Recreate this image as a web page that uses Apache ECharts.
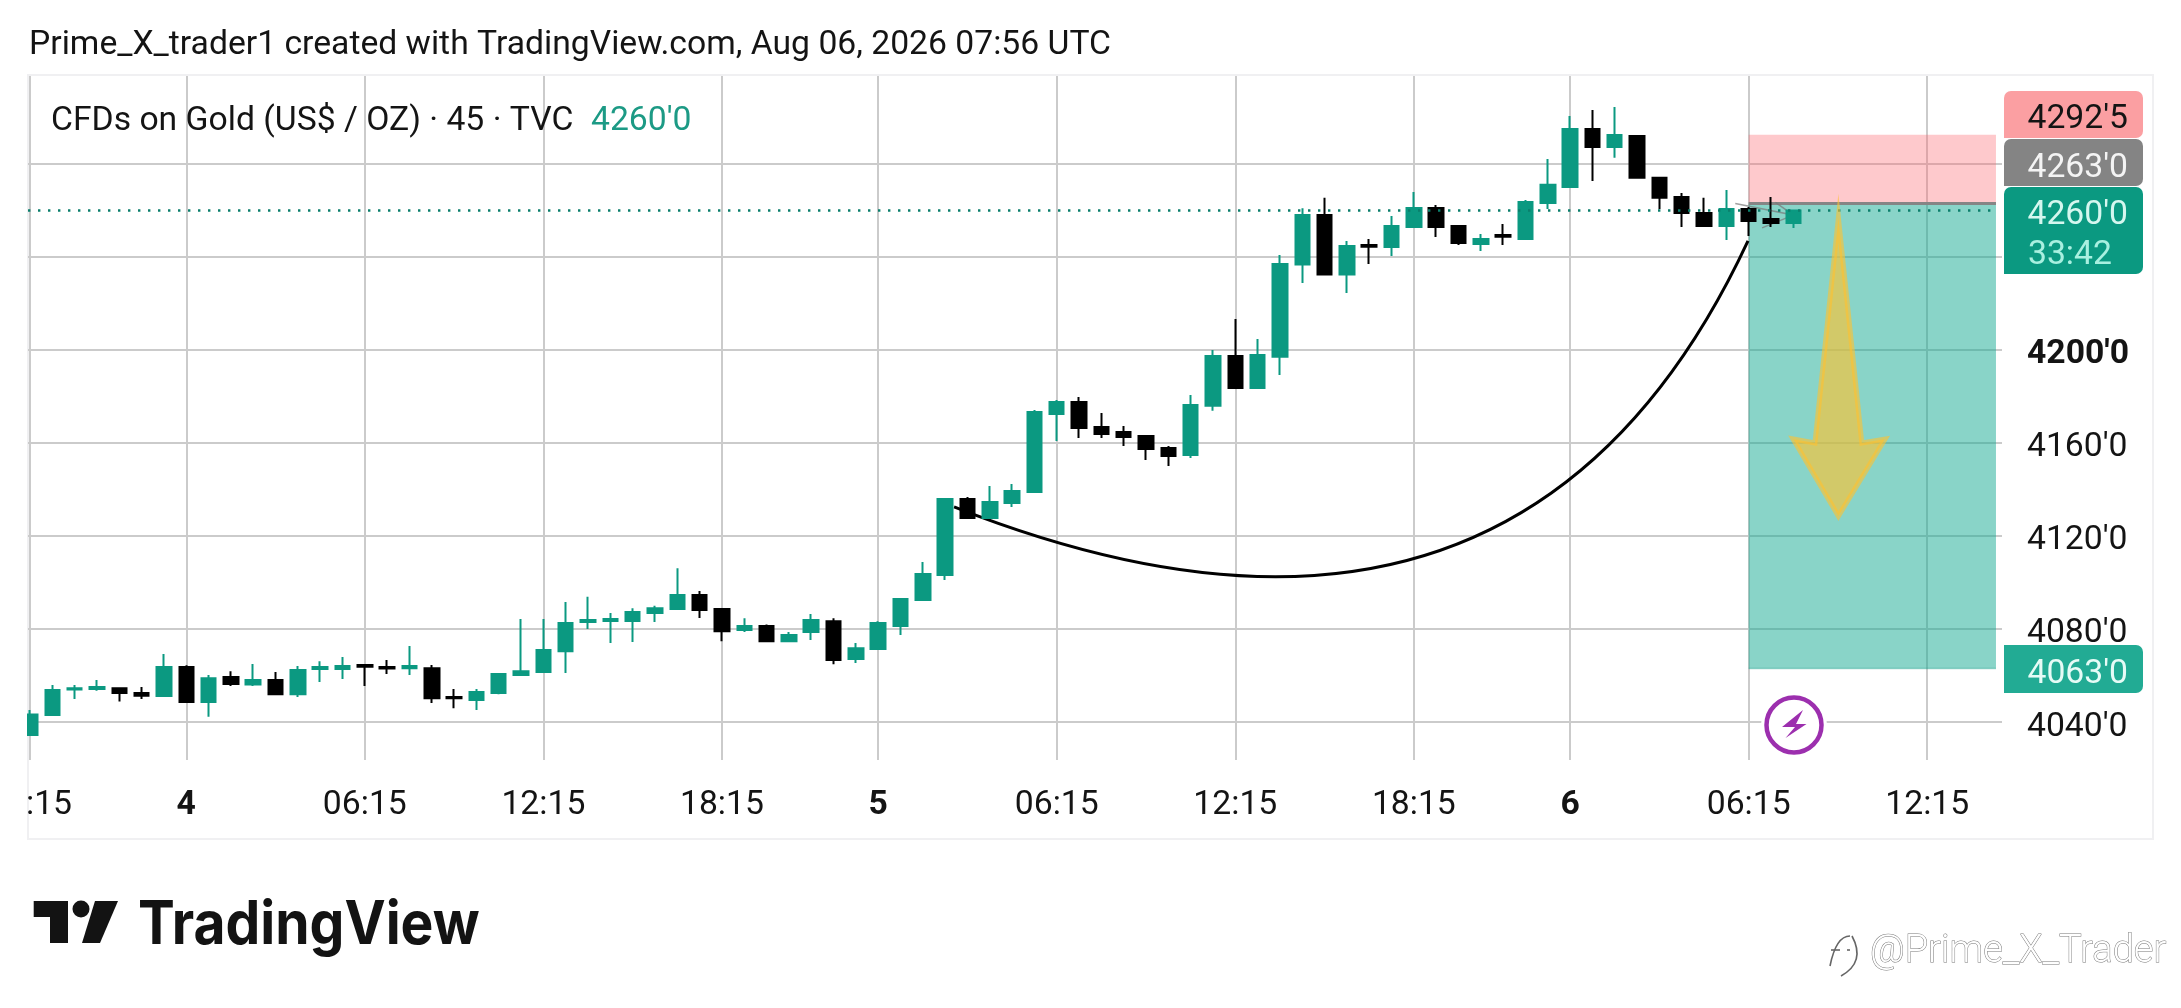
<!DOCTYPE html>
<html><head><meta charset="utf-8">
<style>html,body{margin:0;padding:0;background:#fff}#c{width:2181px;height:1008px}</style>
<script src="https://cdn.jsdelivr.net/npm/echarts@6/dist/echarts.min.js"></script>
</head><body><div id="c"></div>
<script>
const opens =[4034.4,4043,4054,4054.2,4054.6,4052.5,4051.2,4063.7,4048.6,4059.4,4056.2,4058.1,4052,4062.8,4062.8,4064.5,4063.7,4063.2,4063.2,4050.8,4049.5,4052.5,4060.2,4061.5,4070.5,4083,4083.5,4083.5,4086.9,4088.6,4094.6,4088.6,4079.6,4081.3,4074.8,4078.7,4083.4,4067.1,4071.4,4081.3,4092.5,4103.2,4135.9,4127.7,4134.2,4138.9,4172.5,4177.6,4166.9,4164.7,4163,4157.8,4154.8,4176,4197.4,4183.6,4197.1,4236.7,4258,4232.4,4245.1,4244.3,4252.9,4261,4253.3,4245.6,4249.4,4247.7,4263.2,4270.1,4295,4287.3,4292,4274,4265.8,4258.9,4253.3,4260.6,4256.3,4254.6];
const closes=[4043.3,4053.8,4054.6,4055.1,4052.5,4051.3,4063.7,4048.6,4058.9,4056.4,4058.1,4052,4062.4,4063.7,4064.1,4063.8,4063,4064.1,4050.3,4050.2,4052.9,4060.7,4061.9,4071,4082.6,4083.9,4084.3,4087.3,4089,4094.6,4088.2,4079.1,4081.3,4074.8,4077.4,4083.9,4066.7,4071.8,4082.6,4092.9,4103.7,4135.9,4127.7,4134.6,4139.4,4173.3,4177.6,4166.5,4163.9,4162.6,4157.4,4154.4,4176.3,4197.4,4183.6,4197.8,4237,4258,4232.4,4244.7,4244.4,4253.3,4261,4252.9,4246,4247.7,4248.7,4263.6,4271,4295,4287.3,4292.4,4274,4265.4,4258.9,4253.3,4260.6,4255.5,4254.6,4260];
const highs =[4045.2,4055.9,4055.9,4058.1,4054.6,4055.1,4069.3,4064.4,4060.2,4061.9,4065,4061.5,4064.1,4066.2,4068,4064.5,4066.7,4072.7,4064.5,4054.2,4054.2,4061.1,4084.3,4084.3,4091.6,4093.9,4086.9,4089,4090,4106.2,4096.4,4088.9,4084.7,4082,4078.7,4086.5,4084.7,4074,4083.4,4092.9,4108.8,4136.3,4136.8,4141.5,4142.4,4174.2,4178.5,4179.8,4172.9,4167.3,4163,4158.7,4180.6,4200,4213.3,4204.7,4240.8,4260.9,4265.4,4246.9,4247.7,4257.6,4267.9,4262.3,4253.7,4249.9,4254.2,4264.5,4282.1,4300.6,4303.2,4304.5,4292.4,4274.4,4267.5,4265.4,4268.8,4261.5,4265.8,4260];
const lows  =[4034.4,4043,4049.9,4053.5,4048.8,4049.9,4050.8,4048.3,4042.3,4055.5,4055.5,4052,4050.8,4057.2,4058.5,4055.5,4060.7,4060.2,4048.2,4046,4045.2,4052,4059.8,4061.5,4061.1,4080,4074,4074.4,4083,4088.6,4084.8,4074.8,4078.7,4074.4,4074.8,4075.3,4064.9,4065.4,4071.4,4077.4,4092.5,4101.1,4127.3,4127.7,4132.5,4138.9,4160.9,4162.2,4162.2,4158.7,4152.7,4150.1,4153.5,4173.9,4183.3,4183.6,4189.2,4228.8,4232.4,4224.5,4237,4240.4,4252.9,4248.6,4245.1,4242.6,4245.1,4247.7,4260.6,4270.1,4272.7,4282.6,4274,4260.6,4252.9,4252.9,4247.3,4249,4252.9,4252.4];

const xTickIndex =[0,7,15,23,31,38,46,54,62,69,77,85];
const xTickLabels=[':15','4','06:15','12:15','18:15','5','06:15','12:15','18:15','6','06:15','12:15'];
const boldDays   =['4','5','6'];
const yGridValues=[4040,4080,4120,4160,4200,4240,4280];
const yLabelValues=[4040,4080,4120,4160,4200];
const boldPrice  =4200;

const lastPrice=4260, stopPrice=4292.5, entryPrice=4263, targetPrice=4063;
const positionFromBar=77, positionToBar=88.08;
const tagLabels=["4292'5","4263'0","4260'0","33:42","4063'0"];

const curveBars  =[41.4,66.76,76.97];
const curvePrices=[4132.5,4036.6,4246.9];
const arrowBars  =[81.02,82.07,83.11,81.02,78.99,79.97];
const arrowPrices=[4256.8,4160,4161.7,4128.6,4161.7,4160];
const entryArrowBars  =[76.4,79,78.2,79,77.6];
const entryArrowPrices=[4263,4258,4263.5,4258,4252.5];

const GREEN='#0b9981', BLACK='#000000', INK='#141414', FONT='Roboto, sans-serif', TXT='33.7px '+FONT;
const candles=opens.map((o,i)=>[i,o,closes[i],lows[i],highs[i]]);
const pad2=38;

function once(fn){return {type:'custom',coordinateSystem:'cartesian2d',silent:true,data:[[0,4200]],encode:{x:0,y:1},renderItem:fn,animation:false};}
function polyPts(api,xs,ys){return xs.map((x,i)=>api.coord([x,ys[i]]));}

const option={
  animation:false,backgroundColor:'#fff',
  grid:{left:28,right:179,top:76,bottom:248,containLabel:false},
  xAxis:{type:'value',min:-0.09,max:88.35,
    axisLine:{show:false},
    axisTick:{show:false,customValues:xTickIndex},
    splitLine:{show:true,lineStyle:{color:'#cbcbcb',width:2}},
    axisLabel:{customValues:xTickIndex,margin:29,fontFamily:FONT,fontSize:33.7,color:INK,
      formatter:v=>{const s=xTickLabels[xTickIndex.indexOf(v)];
        if(v===xTickIndex[0])return '{clip|'+s+'}';
        return boldDays.includes(s)?'{b|'+s+'}':s;},
      rich:{clip:{fontFamily:FONT,fontSize:33.7,color:INK,padding:[0,0,0,pad2]},
            b:{fontFamily:FONT,fontSize:33.7,fontWeight:'bold',color:INK}}}},
  yAxis:{type:'value',position:'right',min:4023.7,max:4317.8,
    axisLine:{show:false},
    axisTick:{show:false,customValues:yGridValues},
    splitLine:{show:true,lineStyle:{color:'#cbcbcb',width:2}},
    axisLabel:{customValues:yLabelValues,margin:25,padding:[10,0,0,0],fontFamily:FONT,fontSize:33.7,color:INK,
      formatter:v=>v===boldPrice?"{b|"+v+"'0}":v+"'0",
      rich:{b:{fontFamily:FONT,fontSize:33.7,fontWeight:'bold',color:INK}}}},
  series:[
    Object.assign(once((p,api)=>{
      const a=api.coord([positionFromBar,stopPrice]),b=api.coord([positionToBar,entryPrice]),c=api.coord([positionToBar,targetPrice]);
      return {type:'group',children:[
        {type:'rect',shape:{x:a[0],y:a[1],width:b[0]-a[0],height:b[1]-a[1]},style:{fill:'rgba(252,100,110,0.35)'}},
        {type:'rect',shape:{x:a[0],y:b[1],width:b[0]-a[0],height:c[1]-b[1]},style:{fill:'rgba(20,169,145,0.5)'}},
        {type:'line',shape:{x1:a[0],y1:b[1],x2:b[0],y2:b[1]},style:{stroke:'#858585',lineWidth:3}},
        {type:'line',shape:{x1:a[0],y1:c[1],x2:b[0],y2:c[1]},style:{stroke:'rgba(8,153,129,0.35)',lineWidth:1.5}}
      ]};}),{z:1,name:'position'}),
    {type:'candlestick',z:3,barWidth:15,clip:true,silent:true,animation:false,
      data:candles,encode:{x:0,y:[1,2,3,4]},
      itemStyle:{color:GREEN,color0:BLACK,borderColor:GREEN,borderColor0:BLACK,borderWidth:2}},
    Object.assign(once((p,api)=>{
      const a=api.coord([-0.09,lastPrice]),b=api.coord([88.1,lastPrice]);
      return {type:'line',shape:{x1:a[0],y1:a[1],x2:b[0],y2:b[1]},style:{stroke:'#0b7f6c',lineWidth:2.4,lineDash:[2.4,7.6]}};
    }),{z:4,name:'last price'}),
    Object.assign(once((p,api)=>{
      const q=polyPts(api,curveBars,curvePrices);
      return {type:'bezierCurve',shape:{x1:q[0][0],y1:q[0][1],cpx1:q[1][0],cpy1:q[1][1],x2:q[2][0],y2:q[2][1]},style:{stroke:'#000',fill:null,lineWidth:3}};
    }),{z:2,name:'curve'}),
    Object.assign(once((p,api)=>{
      const q=polyPts(api,entryArrowBars,entryArrowPrices);
      return {type:'polyline',shape:{points:q},style:{stroke:'rgba(120,120,120,0.7)',fill:null,lineWidth:1.5}};
    }),{z:2,name:'entry arrow'}),
    Object.assign(once((p,api)=>{
      const q=polyPts(api,arrowBars,arrowPrices);
      return {type:'polygon',shape:{points:q},style:{fill:'rgba(255,193,47,0.62)',stroke:'rgba(255,193,47,0.6)',lineWidth:5,lineJoin:'miter'}};
    }),{z:5,name:'arrow'})
  ],
  graphic:[
    {type:'rect',silent:true,z:30,shape:{x:0,y:600,width:27,height:160},style:{fill:'#fff'}},
    {type:'rect',silent:true,z:-1,shape:{x:28,y:75,width:2125,height:764},style:{fill:null,stroke:'#f0f0f2',lineWidth:2}},
    {type:'text',z:20,x:29,y:46,style:{text:'Prime_X_trader1 created with TradingView.com, Aug 06, 2026 07:56 UTC',font:TXT,fill:INK,textVerticalAlign:'middle'}},
    {type:'text',z:20,x:51,y:122,style:{text:'CFDs on Gold (US$ / OZ) · 45 · TVC',font:TXT,fill:INK,textVerticalAlign:'middle'}},
    {type:'text',z:20,x:591,y:122,style:{text:"4260'0",font:TXT,fill:'#1c9a85',textVerticalAlign:'middle'}},
    // price tags
    {type:'rect',z:20,shape:{x:2004,y:91,width:139,height:47,r:[7,7,7,0]},style:{fill:'#fb9fa2'}},
    {type:'rect',z:20,shape:{x:2004,y:139,width:139,height:47,r:[7,7,7,0]},style:{fill:'#848484'}},
    {type:'rect',z:20,shape:{x:2004,y:187,width:139,height:87,r:[7,7,7,0]},style:{fill:GREEN}},
    {type:'rect',z:20,shape:{x:2004,y:645,width:139,height:48,r:[0,7,7,0]},style:{fill:'#22ab94'}},
    {type:'text',z:21,x:2128,y:120,style:{text:tagLabels[0],font:TXT,fill:INK,align:'right',textVerticalAlign:'middle'}},
    {type:'text',z:21,x:2128,y:169,style:{text:tagLabels[1],font:TXT,fill:'#f4f4f4',align:'right',textVerticalAlign:'middle'}},
    {type:'text',z:21,x:2128,y:216,style:{text:tagLabels[2],font:TXT,fill:'#d5f7ef',align:'right',textVerticalAlign:'middle'}},
    {type:'text',z:21,x:2028,y:256,style:{text:tagLabels[3],font:TXT,fill:'#a9f0e0',align:'left',textVerticalAlign:'middle'}},
    {type:'text',z:21,x:2128,y:675,style:{text:tagLabels[4],font:TXT,fill:'#e6fbf6',align:'right',textVerticalAlign:'middle'}},
    // lightning icon
    {type:'circle',z:10,shape:{cx:1794,cy:725,r:33},style:{fill:'#fff'}},
    {type:'circle',z:11,shape:{cx:1794,cy:725,r:27.5},style:{fill:'#fff',stroke:'#9c2fae',lineWidth:4.5}},
    {type:'polygon',z:11,shape:{points:[[1803,710],[1782,727],[1795,727],[1785.5,738],[1806.5,724],[1796,724]]},style:{fill:'#9c2fae'}},
    // TradingView logo
    {type:'polygon',z:20,shape:{points:[[33.7,901],[68,901],[68,943],[50,943],[50,917],[33.7,917]]},style:{fill:'#131313'}},
    {type:'circle',z:20,shape:{cx:81,cy:909,r:8.5},style:{fill:'#131313'}},
    {type:'polygon',z:20,shape:{points:[[95,901],[118,901],[100,943],[82,943]]},style:{fill:'#131313'}},
    {type:'text',z:20,x:127,y:926,scaleX:0.92,originX:137,style:{text:'TradingView',font:'bold 60px Inter, sans-serif',fill:'#131313',textVerticalAlign:'middle'}},
    // watermark
    {type:'bezierCurve',z:20,shape:{x1:1850,y1:936,cpx1:1836,cpy1:936,x2:1830,y2:966},style:{fill:null,stroke:'#666',lineWidth:1.6}},
    {type:'bezierCurve',z:20,shape:{x1:1852,y1:936,cpx1:1866,cpy1:962,x2:1841,y2:976},style:{fill:null,stroke:'#666',lineWidth:1.6}},
    {type:'line',z:20,shape:{x1:1831,y1:950,x2:1840,y2:950},style:{stroke:'#666',lineWidth:1.6}},
    {type:'line',z:20,shape:{x1:1847,y1:950,x2:1850,y2:950},style:{stroke:'#666',lineWidth:1.6}},
    {type:'text',z:20,x:1870,y:952,style:{text:'@Prime_X_Trader',font:'300 38px Roboto, sans-serif',fill:'#fff',stroke:'#777',lineWidth:1,textVerticalAlign:'middle'}}
  ]
};
const chart=echarts.init(document.getElementById('c'),null,{renderer:'canvas',width:2181,height:1008});
chart.setOption(option);
</script></body></html>
